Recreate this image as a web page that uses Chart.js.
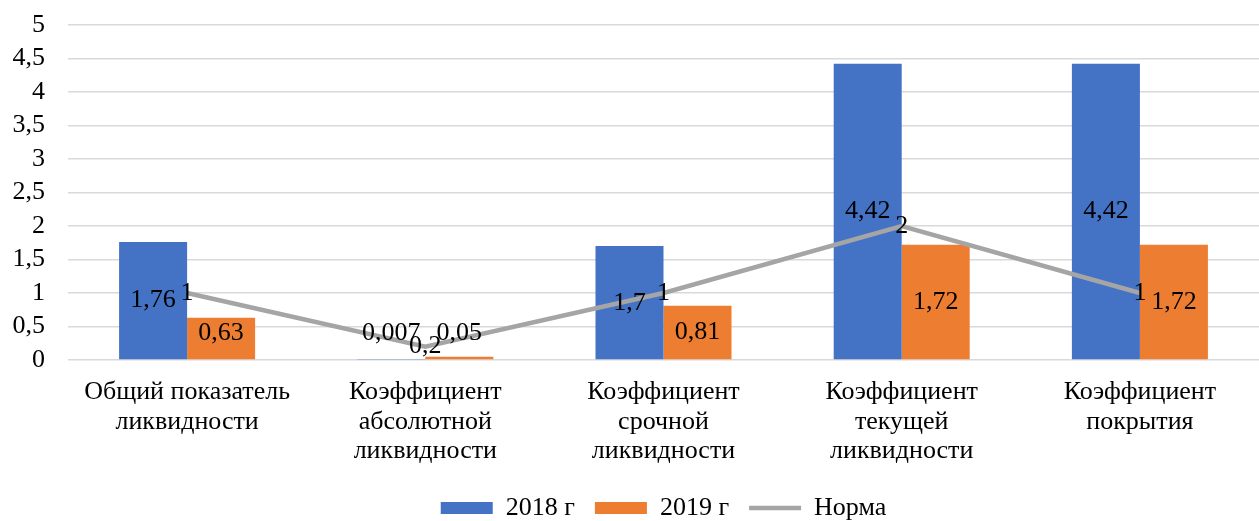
<!DOCTYPE html>
<html>
<head>
<meta charset="utf-8">
<script src="https://cdn.jsdelivr.net/npm/chart.js@4.4.0/dist/chart.umd.min.js"></script>
<style>
  html, body { margin: 0; padding: 0; background: #fff; }
  #wrap { width: 1259px; height: 521px; position: relative; }
</style>
</head>
<body>
<div id="wrap"><canvas id="liquidityChart"></canvas></div>
<script>
const categories = [
    ['Общий показатель', 'ликвидности'],
    ['Коэффициент', 'абсолютной', 'ликвидности'],
    ['Коэффициент', 'срочной', 'ликвидности'],
    ['Коэффициент', 'текущей', 'ликвидности'],
    ['Коэффициент', 'покрытия'],
];
const seriesNames = ['2018 г', '2019 г', 'Норма'];
const values2018 = [1.76, 0.007, 1.7, 4.42, 4.42];
const values2019 = [0.63, 0.05, 0.81, 1.72, 1.72];
const normValues = [1, 0.2, 1, 2, 1];
const yMin = 0, yMax = 5, yStep = 0.5;

const fontFamily = '"Liberation Serif", "Times New Roman", serif';
const fontSize = 26;
const fmt = v => String(v).replace('.', ',');

// labels drawn in the middle of bars and on top of line points
const valueLabels = {
    id: 'valueLabels',
    afterDatasetsDraw(chart) {
        const ctx = chart.ctx;
        ctx.save();
        ctx.font = fontSize + 'px ' + fontFamily;
        ctx.fillStyle = '#000';
        ctx.textAlign = 'center';
        ctx.textBaseline = 'middle';
        chart.data.datasets.forEach((ds, i) => {
            const meta = chart.getDatasetMeta(i);
            meta.data.forEach((el, j) => {
                let x = el.x, y = el.y;
                if (ds.type !== 'line') {
                    y = Math.min((el.y + el.base) / 2, el.base - 26);
                }
                ctx.fillText(fmt(ds.data[j]), x, y);
            });
        });
        ctx.restore();
    }
};

new Chart(document.getElementById('liquidityChart'), {
    data: {
        labels: categories,
        datasets: [
            {
                type: 'bar',
                label: seriesNames[0],
                data: values2018,
                backgroundColor: '#4472C4',
                order: 1,
            },
            {
                type: 'bar',
                label: seriesNames[1],
                data: values2019,
                backgroundColor: '#ED7D31',
                order: 1,
            },
            {
                type: 'line',
                label: seriesNames[2],
                data: normValues,
                borderColor: '#A5A5A5',
                borderWidth: 4.5,
                pointRadius: 0,
                tension: 0,
                order: 0,
            },
        ],
    },
    options: {
        responsive: true,
        maintainAspectRatio: false,
        animation: false,
        datasets: {
            bar: { categoryPercentage: 0.571, barPercentage: 1 },
        },
        layout: { padding: { left: 8, right: 0, top: 0, bottom: -10 } },
        scales: {
            x: {
                grid: { display: false },
                border: { display: false },
                ticks: {
                    color: '#000',
                    font: { family: fontFamily, size: fontSize, lineHeight: 1.12 },
                    padding: 10,
                    maxRotation: 0,
                },
                afterFit(scale) { scale.height = 115; },
            },
            y: {
                min: yMin,
                max: yMax,
                grid: { color: '#D9D9D9', lineWidth: 1.5, drawTicks: false },
                border: { display: false },
                ticks: {
                    stepSize: yStep,
                    autoSkip: false,
                    color: '#000',
                    padding: 23,
                    font: { family: fontFamily, size: fontSize },
                    callback: v => fmt(v),
                },
                afterFit(scale) {
                    scale.width = 60;
                    scale.paddingTop = 25;
                    scale.paddingBottom = 0;
                },
            },
        },
        plugins: {
            tooltip: { enabled: false },
            legend: {
                position: 'bottom',
                fullSize: false,
                labels: {
                    color: '#000',
                    font: { family: fontFamily, size: fontSize },
                    usePointStyle: true,
                    pointStyleWidth: 52,
                    boxHeight: 12,
                    padding: 20,
                    generateLabels(chart) {
                        return chart.data.datasets.map((ds, i) => ({
                            text: ds.label,
                            datasetIndex: i,
                            fillStyle: ds.type === 'line' ? ds.borderColor : ds.backgroundColor,
                            strokeStyle: ds.type === 'line' ? ds.borderColor : ds.backgroundColor,
                            lineWidth: ds.type === 'line' ? 4.5 : 0,
                            pointStyle: ds.type === 'line' ? 'line' : 'rect',
                            fontColor: '#000',
                            hidden: false,
                        }));
                    },
                },
            },
        },
    },
    plugins: [valueLabels],
});
</script>
</body>
</html>
